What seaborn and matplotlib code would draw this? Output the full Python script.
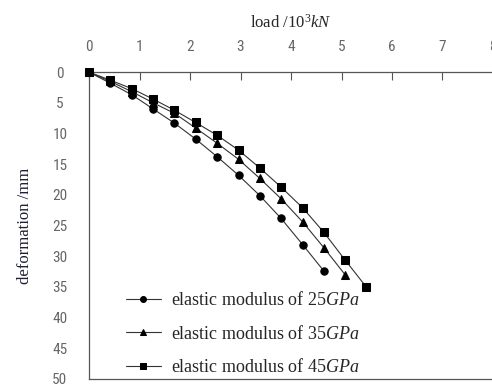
import matplotlib
matplotlib.use('Agg')
import matplotlib.pyplot as plt
from matplotlib import font_manager
import seaborn as sns
import pandas as pd

# load in 10^3 kN, deformation in mm
load = [0, 0.42, 0.85, 1.27, 1.69, 2.11, 2.54, 2.96, 3.38, 3.80, 4.23, 4.65, 5.07, 5.49]
defo_25 = [0, 1.8, 3.7, 6.0, 8.3, 10.9, 13.8, 16.8, 20.1, 23.8, 28.1, 32.4]
defo_35 = [0, 1.5, 3.2, 5.0, 6.7, 9.1, 11.6, 14.2, 17.3, 20.6, 24.4, 28.6, 33.0]
defo_45 = [0, 1.3, 2.7, 4.4, 6.2, 8.2, 10.3, 12.7, 15.6, 18.7, 22.1, 26.1, 30.6, 35.0]
labels = ['elastic modulus of 25$GPa$', 'elastic modulus of 35$GPa$',
          'elastic modulus of 45$GPa$']
x_ticks = [0, 1, 2, 3, 4, 5, 6, 7, 8]
y_ticks = [0, 5, 10, 15, 20, 25, 30, 35, 40, 45, 50]

sns.set_style('white')
plt.rcParams['mathtext.fontset'] = 'custom'
plt.rcParams['mathtext.it'] = 'Liberation Serif:italic'
plt.rcParams['mathtext.rm'] = 'Liberation Serif'

# a narrow face for the tick numbers if one is around
have = {f.name for f in font_manager.fontManager.ttflist}
tick_font = next((f for f in ['Liberation Sans Narrow', 'Roboto Condensed',
                              'DejaVu Sans Condensed', 'Liberation Sans'] if f in have),
                 'DejaVu Sans')

fig = plt.figure(figsize=(4.92, 3.85), dpi=100)
# the plot runs past the right edge, as in the original crop
ax = fig.add_axes([0.181, 0.0156, 0.821, 0.797])

series = [(defo_25, 'o', 5.3), (defo_35, '^', 5.8), (defo_45, 's', 5.2)]
for (vals, mk, ms), lab in zip(series, labels):
    df = pd.DataFrame({'load': load[:len(vals)], 'deformation': vals})
    sns.lineplot(data=df, x='load', y='deformation', ax=ax, color='#333333',
                 linewidth=0.8, marker=mk, markersize=ms, markerfacecolor='black',
                 markeredgecolor='black', label=lab, clip_on=False, zorder=3)

ax.set_xlim(0, 8)
ax.set_ylim(50, 0)
ax.set_xticks(x_ticks)
ax.set_yticks(y_ticks)
ax.xaxis.tick_top()
ax.xaxis.set_label_position('top')
ax.tick_params(axis='both', direction='in', length=6, width=0.8, color='#555555',
               labelcolor='#666666', labelsize=11)
ax.tick_params(axis='x', pad=13)
ax.tick_params(axis='y', pad=21)
for t in ax.get_xticklabels() + ax.get_yticklabels():
    t.set_family(tick_font)
for t in ax.get_yticklabels():
    t.set_ha('center')
for s in ax.spines.values():
    s.set_color('#555555')
    s.set_linewidth(0.9)

ax.set_xlabel('load /10$^3$$kN$', family='Liberation Serif', fontsize=12, labelpad=9)
ax.set_ylabel('deformation /mm', family='Liberation Serif', fontsize=12,
              color='#1f1f33', labelpad=14)

ax.legend(loc='upper left', bbox_to_anchor=(0.237, 0.267), bbox_transform=fig.transFigure,
          frameon=False, borderpad=0, handlelength=1.95, handletextpad=0.55,
          labelspacing=0.86, markerscale=0.8,
          prop={'family': 'Liberation Serif', 'size': 13})

fig.savefig('out.png', dpi=100)
